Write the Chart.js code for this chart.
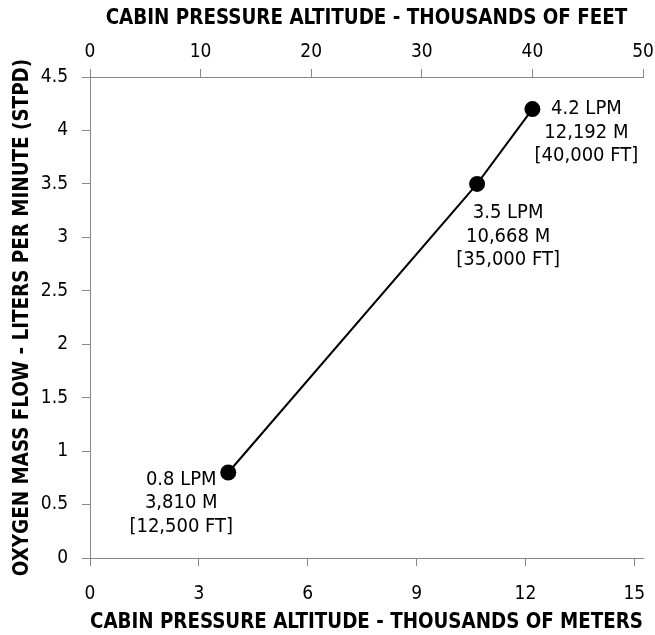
<!DOCTYPE html>
<html><head><meta charset="utf-8">
<script src="https://cdn.jsdelivr.net/npm/chart.js@4"></script>
<style>html,body{margin:0;padding:0;background:#fff;}canvas{display:block;}</style>
</head><body>
<canvas id="c" width="655" height="635"></canvas>
<script>
// Data
const altitudeMeters = [3.81, 10.668, 12.192];   // thousands of meters
const oxygenFlow = [0.8, 3.5, 4.2];              // LPM
const pointLabels = [
  ["0.8 LPM", "3,810 M", "[12,500 FT]"],
  ["3.5 LPM", "10,668 M", "[35,000 FT]"],
  ["4.2 LPM", "12,192 M", "[40,000 FT]"]
];
const meterTicks = [0, 3, 6, 9, 12, 15];
const feetTicks = [0, 10, 20, 30, 40, 50];
const flowTicks = [0, 0.5, 1, 1.5, 2, 2.5, 3, 3.5, 4, 4.5];
const feetMax = 50;            // thousands of feet
const metersMax = 15.24;       // 50,000 ft in thousands of meters

// label offsets (style)
const labelOffsets = [[-47, 7], [31, 29], [54, 0]];

const FONT = "'DejaVu Sans Condensed', 'DejaVu Sans', sans-serif";
const labelPlugin = {
  id: 'ptlabels',
  afterDatasetsDraw(chart) {
    const ctx = chart.ctx;
    const meta = chart.getDatasetMeta(0);
    ctx.save();
    ctx.font = "20px " + FONT;
    ctx.fillStyle = '#000';
    ctx.textAlign = 'center';
    ctx.textBaseline = 'middle';
    meta.data.forEach((pt, i) => {
      const [dx, dy] = labelOffsets[i];
      pointLabels[i].forEach((line, j) => {
        ctx.fillText(line, pt.x + dx, pt.y + dy + j * 23.5);
      });
    });
    ctx.restore();
  }
};

const gridCommon = { drawOnChartArea: false, color: '#888', tickLength: 8, tickColor: '#888' };
const borderCommon = { color: '#888', width: 1 };
const tickFont = { family: FONT, size: 19 };
const titleFont = { family: FONT, size: 20.4, weight: 'bold' };
const fmt = v => String(v);
const hFit = h => s => { s.height = h; s.paddingLeft = 0; s.paddingRight = 0; };

new Chart(document.getElementById('c'), {
  type: 'scatter',
  data: {
    datasets: [{
      data: altitudeMeters.map((x, i) => ({ x, y: oxygenFlow[i] })),
      showLine: true,
      borderColor: '#000',
      borderWidth: 2,
      backgroundColor: '#000',
      pointRadius: 7,
      pointHoverRadius: 7,
      xAxisID: 'x',
      yAxisID: 'y'
    }]
  },
  options: {
    responsive: false,
    animation: false,
    layout: { padding: { right: 12, left: 0, top: 0, bottom: 0 } },
    plugins: { legend: { display: false }, tooltip: { enabled: false } },
    scales: {
      x: {
        type: 'linear', position: 'bottom', min: 0, max: metersMax,
        afterBuildTicks: s => { s.ticks = meterTicks.map(v => ({ value: v })); },
        afterFit: hFit(77),
        grid: gridCommon, border: borderCommon,
        ticks: { color: '#000', font: tickFont, padding: 17, maxRotation: 0, callback: fmt },
        title: { display: true, text: 'CABIN PRESSURE ALTITUDE - THOUSANDS OF METERS', color: '#000', font: titleFont, padding: { top: -2, bottom: 0 } }
      },
      x2: {
        type: 'linear', position: 'top', min: 0, max: feetMax,
        afterBuildTicks: s => { s.ticks = feetTicks.map(v => ({ value: v })); },
        afterFit: hFit(77),
        grid: gridCommon, border: borderCommon,
        ticks: { color: '#000', font: tickFont, padding: 6, maxRotation: 0, callback: fmt },
        title: { display: true, text: 'CABIN PRESSURE ALTITUDE - THOUSANDS OF FEET', color: '#000', font: titleFont, padding: { top: 6, bottom: 0 } }
      },
      y: {
        type: 'linear', position: 'left', min: 0, max: 4.5,
        afterBuildTicks: s => { s.ticks = flowTicks.map(v => ({ value: v })); },
        afterFit: s => { s.width = 90; s.paddingTop = 0; s.paddingBottom = 0; },
        grid: gridCommon, border: borderCommon,
        ticks: { color: '#000', font: tickFont, padding: 14, callback: fmt },
        title: { display: true, text: 'OXYGEN MASS FLOW - LITERS PER MINUTE (STPD)', color: '#000', font: titleFont, padding: { top: 10, bottom: 0 } }
      }
    }
  },
  plugins: [labelPlugin]
});
</script>
</body></html>
